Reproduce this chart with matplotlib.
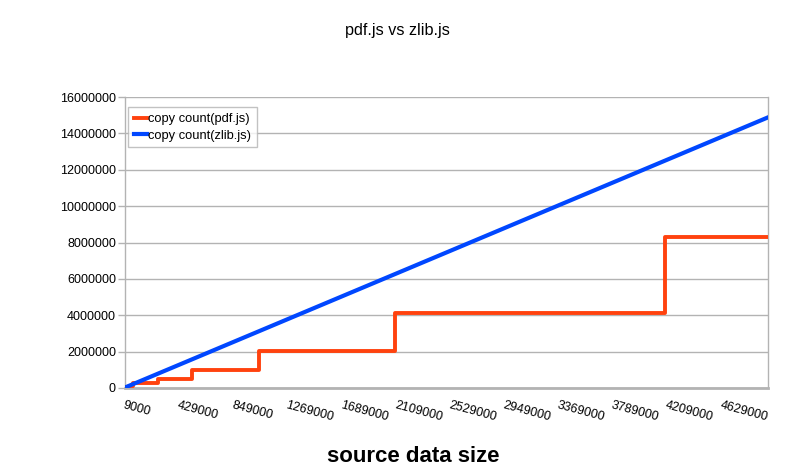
import matplotlib
matplotlib.use("Agg")
from matplotlib import pyplot as plt
import numpy as np

plt.rcParams['font.family'] = ['Liberation Sans', 'DejaVu Sans']

# source data size where pdf.js copy count changes, and the level it holds from there
pdf_x = [9000, 40000, 70000, 264000, 528000, 1046000, 2099000, 4190000, 4989000]
pdf_y = [30000, 130000, 260000, 500000, 1000000, 2030000, 4100000, 8300000, 8300000]

# zlib.js copy count is a straight line, first and last point
zlib_x = [9000, 4989000]
zlib_y = [27000, 14880000]

xticks = [9000, 429000, 849000, 1269000, 1689000, 2109000, 2529000,
          2949000, 3369000, 3789000, 4209000, 4629000]
yticks = [0, 2000000, 4000000, 6000000, 8000000, 10000000, 12000000, 14000000, 16000000]

grey = '#b3b3b3'

fig = plt.figure(figsize=(7.99, 4.76), dpi=100)
ax = fig.add_axes([125/799, 1-388/476, (768-125)/799, (388-97)/476])

ax.step(pdf_x, pdf_y, where='post', color='#ff420e', lw=2.8, label='copy count(pdf.js)', zorder=3)
ax.plot(zlib_x, zlib_y, color='#0047ff', lw=3, label='copy count(zlib.js)', zorder=3)

ax.set_xlim(9000, 4989000)
ax.set_ylim(0, 16000000)
ax.set_yticks(yticks)
ax.set_yticklabels([str(v) for v in yticks], fontsize=9)
ax.set_xticks(xticks)
ax.set_xticklabels([str(v) for v in xticks], fontsize=9, rotation=-15,
                   ha='left', va='top', rotation_mode='anchor')
ax.tick_params(axis='x', length=0, pad=8)
ax.tick_params(axis='y', length=5, color=grey, width=1, pad=1.5)

ax.grid(axis='y', color=grey, lw=1)
ax.set_axisbelow(True)
for s in ['left', 'right']:
    ax.spines[s].set_color(grey)
    ax.spines[s].set_linewidth(1)
ax.spines['bottom'].set_color(grey)
ax.spines['bottom'].set_linewidth(2)
ax.spines['top'].set_visible(False)

leg = ax.legend(loc='upper left', bbox_to_anchor=(0.005, 0.965), fontsize=9.3,
                frameon=True, fancybox=False, handlelength=1.0, handletextpad=0.1,
                borderpad=0.45, labelspacing=0.35, borderaxespad=0)
leg.get_frame().set_edgecolor(grey)
leg.get_frame().set_linewidth(1)

fig.text(0.4975, 1-30/476, 'pdf.js vs zlib.js', fontsize=11.6, ha='center', va='center')
fig.text(0.517, 1-457/476, 'source data size', fontsize=16, fontweight='bold',
         ha='center', va='center')

fig.savefig('out.png', dpi=100)
